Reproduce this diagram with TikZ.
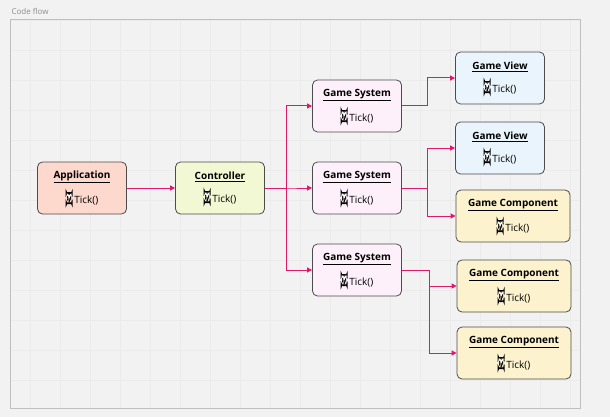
\documentclass[tikz,border=0pt]{standalone}
\usepackage{fontspec}
\setmainfont{Open Sans}
\usetikzlibrary{positioning}
\usetikzlibrary{arrows.meta}
\definecolor{flow}{HTML}{E0186C}
\definecolor{appfill}{HTML}{FCD8CD}
\definecolor{ctlfill}{HTML}{F3F8D4}
\definecolor{sysfill}{HTML}{FDF0FB}
\definecolor{viewfill}{HTML}{E9F4FC}
\definecolor{compfill}{HTML}{FDF2CE}
\newcommand{\sandglass}{\tikz[baseline=0pt,x=1pt,y=1pt]{%
  \fill (-3.5,-1) rectangle (3.5,0.6);
  \fill (-3.5,9.4) rectangle (3.5,11);
  \fill (-2.8,9.4) -- (2.8,9.4) -- (0.5,5) -- (2.8,0.6) -- (-2.8,0.6) -- (-0.5,5) -- cycle;
  \fill[white] (-1.6,8.3) -- (1.6,8.3) -- (0,5.6) -- cycle;}}
\newcommand{\tickbox}[1]{\underline{\textbf{#1}}\\[8pt]\sandglass\,Tick()}
\tikzset{
  blk/.style={draw=black!70,rounded corners=5pt,line width=0.8pt,
    minimum width=89pt,minimum height=52pt,align=center,font=\fontsize{10}{11}\selectfont,
    inner sep=2pt},
  wide/.style={blk,minimum width=114pt},
  ln/.style={draw=flow,line width=1pt,-{Triangle[length=5pt,width=5pt]}}
}
\begin{document}
\begin{tikzpicture}[x=1pt,y=-1pt]
\useasboundingbox (0,0) rectangle (610,417);
\fill[black!5] (0,0) rectangle (610,417);
\foreach \g in {20,50,...,400} \draw[black!8,line width=0.3pt] (10,\g) -- (580,\g);
\foreach \g in {30,60,...,580} \draw[black!8,line width=0.3pt] (\g,20) -- (\g,408);
\draw[black!25,line width=1pt] (10,20) rectangle (580,408);
\node[anchor=west,text=black!45,font=\fontsize{8}{9}\selectfont] (title) at (8,11) {Code flow};

\node[blk,fill=appfill] (app) at (82,188) {\tickbox{Application}};
\node[blk,fill=ctlfill] (ctl) at (220,188) {\tickbox{Controller}};
\node[blk,fill=sysfill] (sysA) at (357,106) {\tickbox{Game System}};
\node[blk,fill=sysfill] (sysB) at (357,188) {\tickbox{Game System}};
\node[blk,fill=sysfill] (sysC) at (357,270) {\tickbox{Game System}};
\node[blk,fill=viewfill] (viewA) at (500,78) {\tickbox{Game View}};
\node[blk,fill=viewfill] (viewB) at (500,148) {\tickbox{Game View}};
\node[wide,fill=compfill] (compA) at (513,216) {\tickbox{Game Component}};
\node[wide,fill=compfill] (compB) at (514,286) {\tickbox{Game Component}};
\node[wide,fill=compfill] (compC) at (514,353) {\tickbox{Game Component}};

\draw[ln] (app) -- (ctl);
\foreach \t in {sysA,sysB,sysC}
  \draw[ln] (ctl.east) -| ++(22,0) |- (\t.west);
\draw[ln] (sysA.east) -| ++(26,0) |- (viewA.west);
\foreach \t in {viewB,compA}
  \draw[ln] (sysB.east) -| ++(26,0) |- (\t.west);
\foreach \t in {compB,compC}
  \draw[ln] (sysC.east) -| ++(28,0) |- (\t.west);
\end{tikzpicture}
\end{document}
